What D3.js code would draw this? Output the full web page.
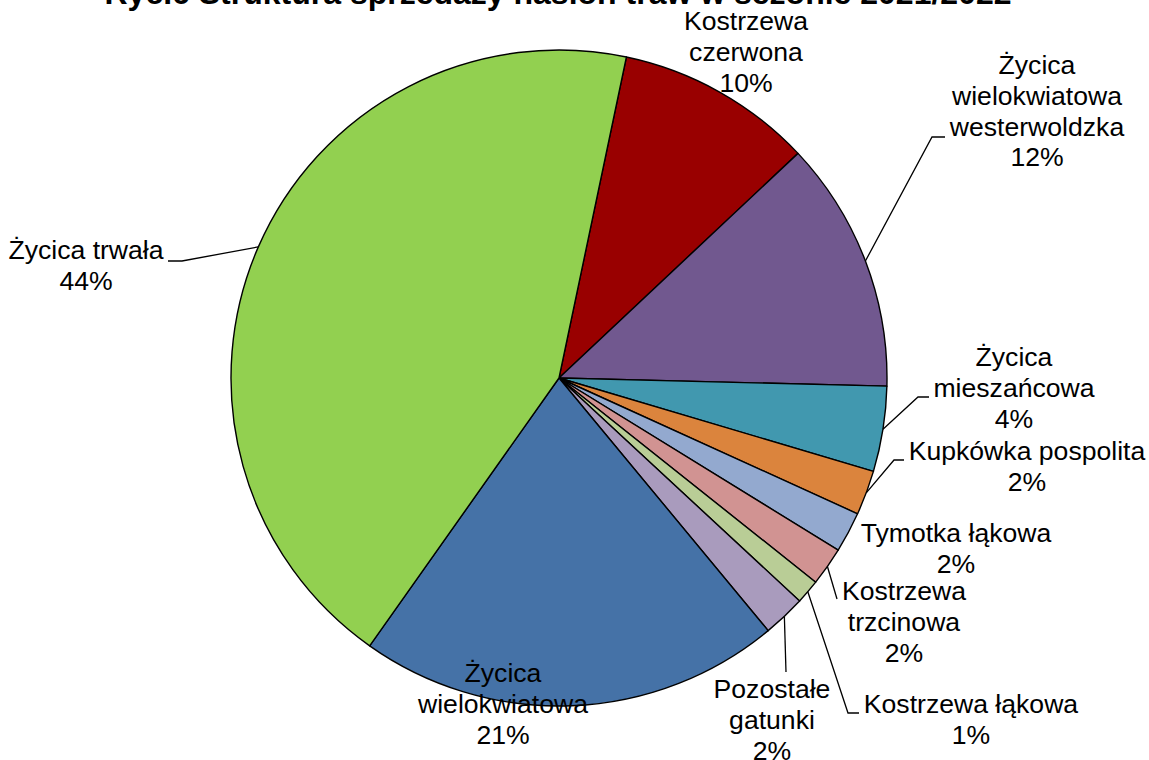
<!DOCTYPE html>
<html><head><meta charset="utf-8">
<script src="https://cdn.jsdelivr.net/npm/d3@7"></script>
<style>body{margin:0;background:#fff;overflow:hidden}svg{display:block}text{font-family:"Liberation Sans",Arial,sans-serif;fill:#000}</style>
</head><body><svg id="c" width="1149" height="760"></svg>
<script>
const title = "Ryc.6 Struktura sprzedaży nasion traw w sezonie 2021/2022";
const categories = ["Kostrzewa czerwona", "Życica wielokwiatowa westerwoldzka", "Życica mieszańcowa", "Kupkówka pospolita", "Tymotka łąkowa", "Kostrzewa trzcinowa", "Kostrzewa łąkowa", "Pozostałe gatunki", "Życica wielokwiatowa", "Życica trwała"];
const labelLines = [["Kostrzewa","czerwona"], ["Życica","wielokwiatowa","westerwoldzka"], ["Życica","mieszańcowa"], ["Kupkówka pospolita"], ["Tymotka łąkowa"], ["Kostrzewa","trzcinowa"], ["Kostrzewa łąkowa"], ["Pozostałe","gatunki"], ["Życica","wielokwiatowa"], ["Życica trwała"]];
const values = [9.7, 12.4, 4.2, 2.2, 2.0, 1.9, 1.2, 2.1, 20.8, 43.5];
const colors = ["#990000","#71588F","#4198AF","#DB843D","#93A9CF","#D19392","#B9CD96","#A99BBD","#4572A7","#92D050"];

// layout (label anchors and leader elbows)
const labelPos = [{x:746,y:30},{x:1037,y:74},{x:1014,y:366},{x:1027,y:460},{x:956,y:542},{x:904,y:600},{x:971,y:713},{x:772,y:698},{x:503,y:682},{x:86,y:259}];
const leaderPts = [null, [[932,137],[945,137]], [[918,397],[929,397]], [[894,460],[904,460]], null, [[837,599]], [[848,713],[859,713]], [[786,672]], null, [[182,261],[168,261]]];

const cx = 559, cy = 378, R = 328, lineH = 30.8;
const start = 11.86 * Math.PI / 180;
const svg = d3.select("#c");
const total = d3.sum(values);
const data = categories.map((c,i)=>({c, v: values[i], i}));
const pie = d3.pie().value(d=>d.v).sort(null).startAngle(start).endAngle(start + 2*Math.PI);
const arcs = pie(data);
const arc = d3.arc().innerRadius(0).outerRadius(R);
const color = d3.scaleOrdinal().domain(categories).range(colors);

const g = svg.append("g").attr("transform", `translate(${cx},${cy})`);
g.selectAll("path").data(arcs).join("path")
  .attr("d", arc).attr("fill", d=>color(d.data.c))
  .attr("stroke", "#000").attr("stroke-width", 1.4).attr("stroke-linejoin","round");

// leaders
const line = d3.line();
arcs.forEach((a,i)=>{
  if (!leaderPts[i]) return;
  const m = (a.startAngle + a.endAngle)/2;
  const p0 = [cx + R*Math.sin(m), cy - R*Math.cos(m)];
  svg.append("path").attr("d", line([p0, ...leaderPts[i]]))
    .attr("fill","none").attr("stroke","#000").attr("stroke-width",1.3);
});

// labels
arcs.forEach((a,i)=>{
  const lines = labelLines[i].concat([Math.round(a.data.v/total*100) + "%"]);
  const t = svg.append("text").attr("text-anchor","middle").attr("font-size", 26.6)
    .attr("x", labelPos[i].x).attr("y", labelPos[i].y);
  lines.forEach((s,k)=>{
    t.append("tspan").attr("x", labelPos[i].x).attr("dy", k===0?0:lineH).text(s);
  });
});

svg.append("text").attr("x", 558).attr("y", 4).attr("text-anchor","middle")
  .attr("font-size", 32).attr("font-weight","bold").text(title);
</script></body></html>
